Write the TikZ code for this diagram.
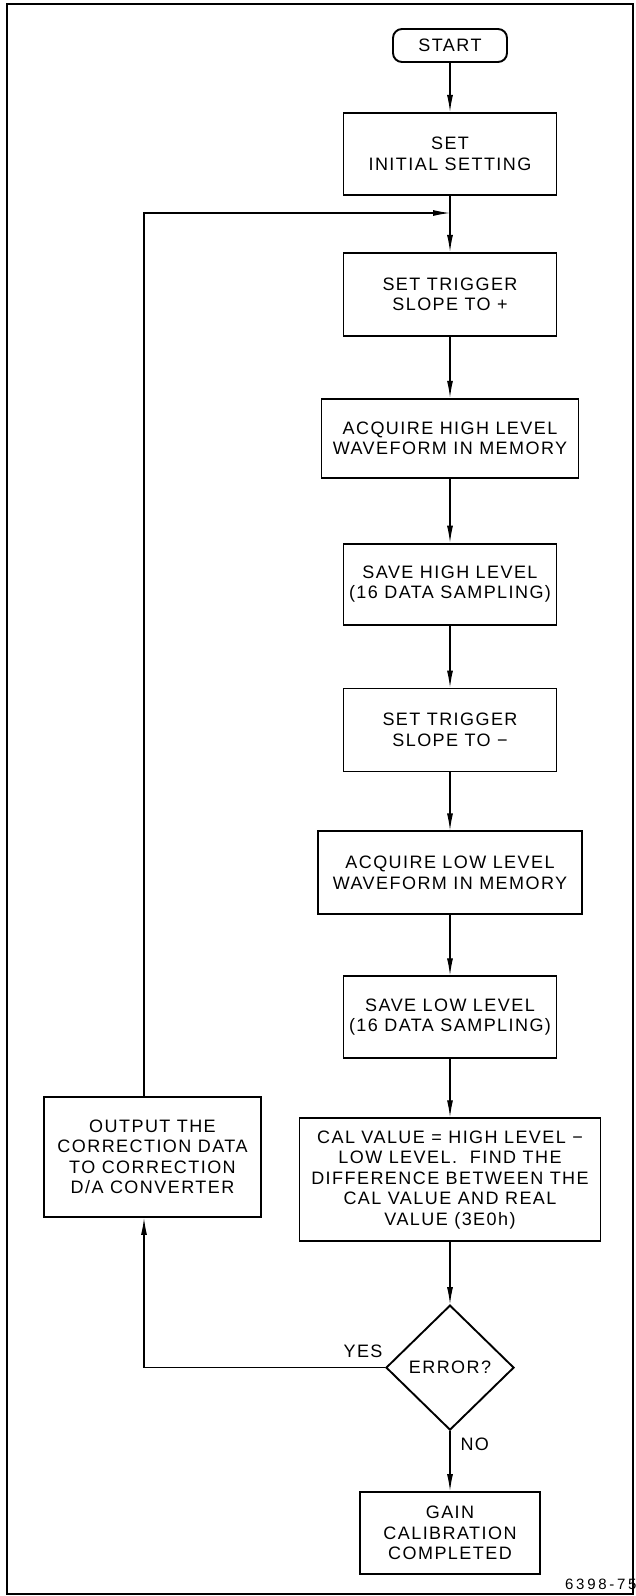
\documentclass[tikz,border=0pt]{standalone}
\usepackage{fontspec}
\setmainfont[LetterSpace=8]{Liberation Sans}
\newfontfamily\tagfont[LetterSpace=18]{Liberation Sans}
\usetikzlibrary{positioning, shapes.geometric, arrows.meta}

\tikzset{
  block/.style={draw, line width=1.9pt, minimum width=213pt, minimum height=82pt,
    align=center, inner sep=2pt, font=\fontsize{18}{20.5}\selectfont},
  term/.style={draw, line width=1.9pt, rounded corners=9pt, minimum width=114pt,
    minimum height=33pt, inner sep=2pt, font=\fontsize{18}{20.5}\selectfont},
  test/.style={draw, diamond, line width=1.9pt, minimum width=128pt,
    minimum height=125pt, inner sep=0pt, font=\fontsize{18}{20.5}\selectfont},
  lbl/.style={inner sep=0pt, font=\fontsize{18}{20.5}\selectfont}
}

\begin{document}
\begin{tikzpicture}[x=1pt, y=-1pt, line width=1.1pt, >={Latex[length=17pt,width=6pt]}]
        \useasboundingbox (0,0) rectangle (635,1596);
        \draw[line width=1.9pt] (7,4) rectangle (633,1594);

        \node[term] (start) at (450,45.5) {START};
        \node[block] (init) [below=49pt of start] {SET\\INITIAL SETTING};
        \node[block, minimum height=83pt] (trig_p) [below=56pt of init] {SET TRIGGER\\SLOPE TO +};
        \node[block, minimum width=257pt, minimum height=79pt] (acq_h) [below=61pt of trig_p] {ACQUIRE HIGH LEVEL\\WAVEFORM IN MEMORY};
        \node[block, minimum height=81pt] (save_h) [below=64pt of acq_h] {SAVE HIGH LEVEL\\(16 DATA SAMPLING)};
        \node[block, minimum height=83pt] (trig_m) [below=62pt of save_h] {SET TRIGGER\\SLOPE TO −};
        \node[block, minimum width=264pt, minimum height=83pt] (acq_l) [below=58pt of trig_m] {ACQUIRE LOW LEVEL\\WAVEFORM IN MEMORY};
        \node[block] (save_l) [below=60pt of acq_l] {SAVE LOW LEVEL\\(16 DATA SAMPLING)};
        \node[block, minimum width=301pt, minimum height=123pt] (cal) [below=58pt of save_l]
          {CAL VALUE = HIGH LEVEL −\\LOW LEVEL.\ \ FIND THE\\DIFFERENCE BETWEEN THE\\CAL VALUE AND REAL\\VALUE (3E0h)};
        \node[test] (err) [below=62pt of cal] {ERROR?};
        \node[block, minimum width=180pt] (done) [below=60pt of err] {GAIN\\CALIBRATION\\COMPLETED};
        \node[block, minimum width=217pt, minimum height=120pt] (out) at (152.5,1157)
          {OUTPUT THE\\CORRECTION DATA\\TO CORRECTION\\D/A CONVERTER};

        \node[lbl, anchor=south east] (yes) at ([shift={(-2pt,9pt)}]err.west) {YES};
        \node[lbl, anchor=west] (no) at ([shift={(10pt,-13.5pt)}]err.south) {NO};
        \node[inner sep=0pt, anchor=east, font=\tagfont\fontsize{15}{17}\selectfont] (fig) at (637,1584) {6398-75};

        \coordinate (join) at (450,213);

        \path[->]
        (start) edge (init)
        (init) edge (trig_p)
        (trig_p) edge (acq_h)
        (acq_h) edge (save_h)
        (save_h) edge (trig_m)
        (trig_m) edge (acq_l)
        (acq_l) edge (save_l)
        (save_l) edge (cal)
        (cal) edge (err)
        (err) edge (done);
        % error loop back to the top
        \draw[->] (err.west) -| ([xshift=-8.5pt]out.south);
        \draw[->] ([xshift=-8.5pt]out.north) |- (join);
      \end{tikzpicture}
\end{document}
